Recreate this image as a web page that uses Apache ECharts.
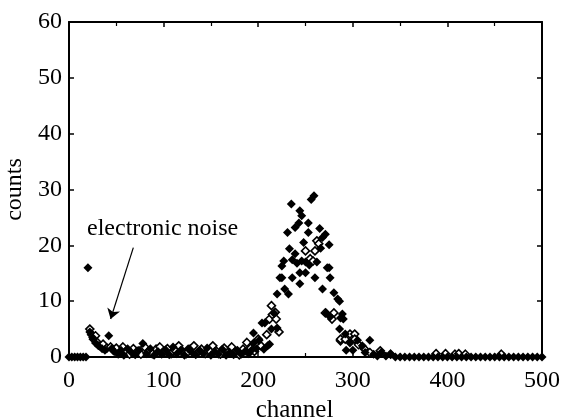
<!DOCTYPE html>
<html>
<head>
<meta charset="utf-8">
<script src="https://cdn.jsdelivr.net/npm/echarts@6/dist/echarts.min.js"></script>
<style>
  html, body { margin: 0; padding: 0; background: #fff; }
  #chart { width: 561px; height: 419px; }
</style>
</head>
<body>
<div id="chart"></div>
<script>
// filled diamonds [channel, counts]
var filledPts = [
  [0,0],[3,0],[6,0],[9,0],[12,0],[15,0],[18,0],
  [20,16],
  [22,4.5],[25,3.5],[28,2.5],[31,2],[35,1.5],[38,1.2],
  [42,3.8],
  [45,1.5],[48,1],[52,0.5],[55,1.2],[58,0.3],[62,1.5],[66,0.8],[70,0.4],[74,1.2],[78,2.4],
  [82,0.6],[86,1.5],[90,0.3],[94,1],[98,0.5],[102,1.3],[106,0.4],[110,1.8],[114,0.6],[118,1.2],
  [122,0.3],[126,1.5],[130,0.8],[134,0.4],[138,1.2],[142,0.6],[146,1.6],[150,0.3],[154,1],
  [158,0.5],[162,1.4],[166,0.3],[170,0.8],[174,0.4],[178,1.2],[182,0.5],[186,1],[190,0.6],
  [193,1.2],[195,2.5],[195,4.3],[198,1.5],[201,3],[204,6.1],[206,1.4],[207,6.1],[210,2],
  [212,2.3],[214,5],[217,7.8],[220,5.2],[220,11.3],[223,14.2],[225,14.2],[225,16.3],[227,17.2],
  [228,12.2],[231,22.3],[232,11.3],[233,19.4],[235,27.4],[236,17.4],[236,14.2],[239,18.5],
  [239,23.2],[241,16.8],[243,24],[244,26.2],[244,15.1],[244,13.1],[246,25.3],[246,17.2],
  [248,20.5],[250,15.1],[250,17],[253,24],[253,22.3],[254,16.5],[256,28.2],[259,28.9],
  [260,14.2],[262,17],[265,23],[266,19.5],[268,21.4],[268,12.2],[271,22],[272,7.9],[273,16],
  [275,20.1],[275,16],[276,14.2],[276,7.2],[280,11.5],[284,10.4],[286,10],[286,5],[287,7],
  [289,7.7],[290,6.8],[292,4.1],[293,1.2],[297,2.5],[300,1.2],[305,3],[310,2],[313,0.8],
  [318,3],[322,0.5],[326,0.2],[330,0.8],[335,0.2],[340,0.5],
  [345,0],[350,0],[355,0],[360,0],[365,0],[370,0],[375,0],[380,0],[385,0],[390,0],[395,0],
  [400,0],[405,0],[410,0],[415,0],[420,0],[425,0],[430,0],[435,0],[440,0],[445,0],[450,0],
  [455,0],[460,0],[465,0],[470,0],[475,0],[480,0],[485,0],[490,0],[495,0],[500,0]
];

// open diamonds [channel, counts]
var openPts = [
  [22,5],[24,4],[26,3.2],[28,3.8],[30,2.6],[33,2],[36,2.3],[40,1.6],[44,1.8],[47,1.2],
  [50,1.6],[54,0.8],[57,1.8],[60,1],[64,0.5],[68,1.5],[72,1],[76,0.5],[80,1.8],[84,1],
  [88,0.6],[92,1.4],[96,1.8],[100,0.8],[104,1.5],[108,0.6],[112,1.2],[116,2],[120,1],
  [124,0.6],[128,1.4],[132,2],[136,0.8],[140,1.4],[144,0.6],[148,1.2],[152,2],[156,1],
  [160,0.5],[164,1.6],[168,0.8],[172,1.8],[176,1],[180,0.4],[184,1.4],[188,2.6],[192,1.6],
  [196,1],[200,3.2],[203,2],[209,4],[212,6.8],[214,9.2],[215,7.6],[218,8],[219,6.8],[222,4.5],
  [250,19],[255,17.6],[258,17.2],[260,19],[262,20.8],[264,20.3],[271,7.9],[280,7.9],[278,6.8],
  [287,2.9],[287,3.2],[292,3.2],[297,4.1],[302,4.1],[302,3.2],[306,2.2],[312,1.5],[318,0.8],
  [329,1.1],[340,0.5],[388,0.6],[398,0.6],[408,0.5],[412,0.6],[419,0.5],[457,0.5]
];

var xTicks = [0, 100, 200, 300, 400, 500];
var yTicks = [0, 10, 20, 30, 40, 50, 60];

// arrow for the noise note: from text down to the point at ~channel 43
var arrowFrom = [68, 19.6];
var arrowTo = [44, 6.8];

var chart = echarts.init(document.getElementById('chart'));
var font = 'Liberation Serif';

var tickStyle = { show: true, inside: true, length: 5, lineStyle: { color: '#000', width: 1.5 } };
var minorStyle = { show: true, splitNumber: 2, length: 4, lineStyle: { color: '#000', width: 1.2 } };
var lineStyle = { show: true, onZero: false, lineStyle: { color: '#000', width: 2 } };

chart.setOption({
  animation: false,
  grid: { left: 69, right: 19, top: 22, bottom: 62, outerBoundsMode: 'none', containLabel: false },
  xAxis: [{
    type: 'value', min: 0, max: 500, interval: 100,
    name: 'channel', nameLocation: 'middle', nameGap: 32,
    nameTextStyle: { fontFamily: font, fontSize: 25, color: '#000', padding: [0, 22, 0, 0] },
    axisLine: lineStyle,
    axisTick: tickStyle,
    minorTick: minorStyle,
    splitLine: { show: false },
    axisLabel: {
      fontFamily: font, fontSize: 24, color: '#000', margin: 12,
      formatter: function (v) { return xTicks.indexOf(v) >= 0 ? String(v) : ''; }
    }
  }, {
    type: 'value', position: 'top', min: 0, max: 500, interval: 100,
    axisLine: lineStyle,
    axisTick: tickStyle, minorTick: minorStyle,
    axisLabel: { show: false }, splitLine: { show: false }
  }],
  yAxis: [{
    type: 'value', min: 0, max: 60, interval: 10,
    name: 'counts', nameLocation: 'middle', nameGap: 34,
    nameTextStyle: { fontFamily: font, fontSize: 24, color: '#000' },
    axisLine: lineStyle,
    axisTick: tickStyle,
    splitLine: { show: false },
    axisLabel: {
      fontFamily: font, fontSize: 24, color: '#000', margin: 7,
      formatter: function (v) { return yTicks.indexOf(v) >= 0 ? String(v) : ''; }
    }
  }, {
    type: 'value', position: 'right', min: 0, max: 60, interval: 10,
    axisLine: lineStyle,
    axisTick: tickStyle,
    axisLabel: { show: false }, splitLine: { show: false }
  }],
  graphic: [{
    type: 'text', left: 87, top: 217,
    style: { text: 'electronic noise', fontFamily: font, fontSize: 24, fill: '#000' }
  }],
  series: [{
    type: 'scatter',
    data: openPts,
    symbol: 'diamond',
    symbolSize: 8,
    itemStyle: { color: '#fff', borderColor: '#000', borderWidth: 1.6, opacity: 1 },
    z: 3
  }, {
    type: 'scatter',
    data: filledPts,
    symbol: 'diamond',
    symbolSize: 9,
    itemStyle: { color: '#000', opacity: 1 },
    z: 4,
    markLine: {
      silent: true,
      symbol: ['none', 'arrow'],
      symbolSize: 10,
      label: { show: false },
      lineStyle: { color: '#000', width: 1.2, type: 'solid' },
      data: [[{ coord: arrowFrom }, { coord: arrowTo }]]
    }
  }]
});
</script>
</body>
</html>
